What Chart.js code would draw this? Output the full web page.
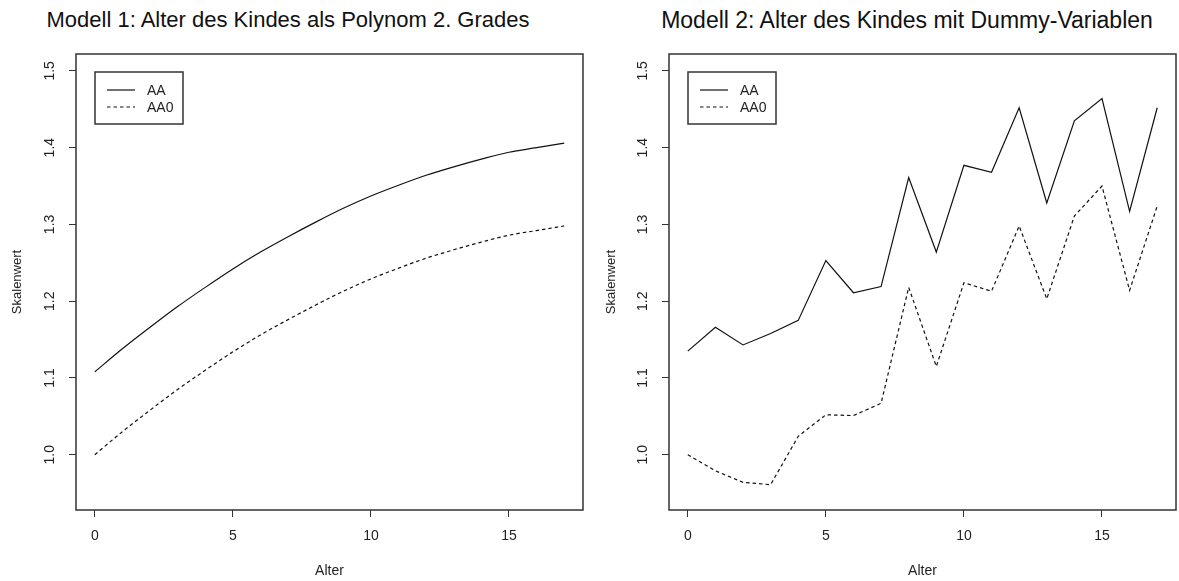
<!DOCTYPE html>
<html>
<head>
<meta charset="utf-8">
<script src="https://cdn.jsdelivr.net/npm/chart.js@4.4.1/dist/chart.umd.min.js"></script>
<style>
  html, body { margin: 0; padding: 0; background: #fff; }
  body { width: 1179px; height: 581px; position: relative; overflow: hidden;
         font-family: "Liberation Sans", Arial, Helvetica, sans-serif; }
  .titel { position: absolute; top: 7px; font-size: 22px; line-height: 26px;
           color: #111; text-align: center; white-space: nowrap; }
  canvas { position: absolute; top: 0; }
</style>
</head>
<body>
<div class="titel" style="left:0px; width:576px;">Modell 1: Alter des Kindes als Polynom 2. Grades</div>
<div class="titel" style="left:638px; width:538px; font-size:23px;">Modell 2: Alter des Kindes mit Dummy-Variablen</div>
<canvas id="modell1" width="590" height="581" style="left:0px;"></canvas>
<canvas id="modell2" width="589" height="581" style="left:590px;"></canvas>
<script>
// Alter in Jahren
const alter = [0, 1, 2, 3, 4, 5, 6, 7, 8, 9, 10, 11, 12, 13, 14, 15, 16, 17];

// Modell 1: quadratischer Term
const aaPoly  = [1.108, 1.138, 1.166, 1.193, 1.218, 1.242, 1.264, 1.284, 1.303,
                 1.321, 1.337, 1.351, 1.364, 1.375, 1.385, 1.394, 1.400, 1.406];
const aa0Poly = [1.000, 1.030, 1.058, 1.085, 1.110, 1.134, 1.156, 1.176, 1.195,
                 1.213, 1.229, 1.243, 1.256, 1.267, 1.277, 1.286, 1.292, 1.298];

// Modell 2: Dummies je Altersjahr
const aaDummy  = [1.135, 1.166, 1.143, 1.158, 1.175, 1.253, 1.211, 1.219, 1.361,
                  1.264, 1.377, 1.368, 1.452, 1.328, 1.435, 1.464, 1.317, 1.452];
const aa0Dummy = [1.000, 0.979, 0.964, 0.961, 1.024, 1.052, 1.051, 1.067, 1.218,
                  1.115, 1.224, 1.213, 1.298, 1.203, 1.311, 1.350, 1.214, 1.324];

// ylim = c(0.95, 1.5), xlim = c(0, 17), plus 4 % wie in R
const yLim = [0.95, 1.5];
const xLim = [0, 17];

const SCHRIFT = '"Liberation Sans", Arial, Helvetica, sans-serif';
const ink = '#222';

const punkte = (ys) => alter.map((a, i) => ({ x: a, y: ys[i] }));
const rand = (lim) => { const d = (lim[1] - lim[0]) * 0.04; return [lim[0] - d, lim[1] + d]; };

// Rahmen um die Plotfläche (bty = "o")
const rahmen = {
  id: 'rahmen',
  afterDraw(chart) {
    const { ctx, chartArea: a } = chart;
    ctx.save();
    ctx.strokeStyle = '#333';
    ctx.lineWidth = 1.5;
    ctx.strokeRect(a.left, a.top, a.right - a.left, a.bottom - a.top);
    ctx.restore();
  }
};

// Legende oben links mit Kasten, wie legend("topleft", lty = 1:2)
const legendeKasten = {
  id: 'legendeKasten',
  afterDraw(chart) {
    const { ctx, chartArea: a } = chart;
    const x = a.left + 19, y = a.top + 18, w = 88, h = 52;
    ctx.save();
    ctx.fillStyle = '#fff';
    ctx.fillRect(x, y, w, h);
    ctx.strokeStyle = '#333';
    ctx.lineWidth = 1.5;
    ctx.strokeRect(x, y, w, h);
    ctx.font = '14px ' + SCHRIFT;
    ctx.textBaseline = 'middle';
    chart.data.datasets.forEach((ds, i) => {
      const ly = y + 18 + i * 17;
      ctx.strokeStyle = ds.borderColor;
      ctx.lineWidth = ds.borderWidth;
      ctx.setLineDash(ds.borderDash || []);
      ctx.beginPath();
      ctx.moveTo(x + 12, ly);
      ctx.lineTo(x + 40, ly);
      ctx.stroke();
      ctx.setLineDash([]);
      ctx.fillStyle = ink;
      ctx.fillText(ds.label, x + 52, ly + 1);
    });
    ctx.restore();
  }
};

function zeichne(id, aa, aa0, glatt, links, rechts, titelAbstand) {
  const yr = rand(yLim), xr = rand(xLim);
  return new Chart(document.getElementById(id), {
    type: 'line',
    data: {
      datasets: [
        { label: 'AA', data: punkte(aa), borderColor: '#111', borderWidth: 1.2,
          pointRadius: 0, tension: glatt ? 0.4 : 0, cubicInterpolationMode: glatt ? 'monotone' : 'default' },
        { label: 'AA0', data: punkte(aa0), borderColor: '#111', borderWidth: 1.2, borderDash: [3.5, 3],
          pointRadius: 0, tension: glatt ? 0.4 : 0, cubicInterpolationMode: glatt ? 'monotone' : 'default' }
      ]
    },
    options: {
      responsive: false,
      animation: false,
      layout: { padding: { top: 54, right: rechts, left: 0, bottom: 0 } },
      plugins: { legend: { display: false }, tooltip: { enabled: false }, title: { display: false } },
      scales: {
        x: {
          type: 'linear', min: xr[0], max: xr[1],
          afterFit: (s) => { s.height = 71; },
          grid: { drawOnChartArea: false, drawTicks: true, tickLength: 7, color: '#333' },
          border: { display: false },
          ticks: { stepSize: 5, includeBounds: false, padding: 11, color: ink,
                   font: { size: 14, family: SCHRIFT }, maxRotation: 0 },
          title: { display: true, text: 'Alter', color: ink, font: { size: 14, family: SCHRIFT },
                   padding: { top: 0, bottom: 1 } }
        },
        y: {
          type: 'linear', min: yr[0], max: yr[1],
          afterFit: (s) => { s.width = links; },
          grid: { drawOnChartArea: false, drawTicks: true, tickLength: 7, color: '#333' },
          border: { display: false },
          ticks: { stepSize: 0.1, includeBounds: false, minRotation: 90, maxRotation: 90,
                   crossAlign: 'center', padding: 9, color: ink,
                   font: { size: 14, family: SCHRIFT },
                   callback: (v) => v.toFixed(1) },
          title: { display: true, text: 'Skalenwert', color: ink, font: { size: 13, family: SCHRIFT },
                   padding: { top: titelAbstand, bottom: 0 } }
        }
      }
    },
    plugins: [rahmen, legendeKasten]
  });
}

zeichne('modell1', aaPoly, aa0Poly, true, 76, 7, 10);
zeichne('modell2', aaDummy, aa0Dummy, false, 79, 3, 14);
</script>
</body>
</html>
